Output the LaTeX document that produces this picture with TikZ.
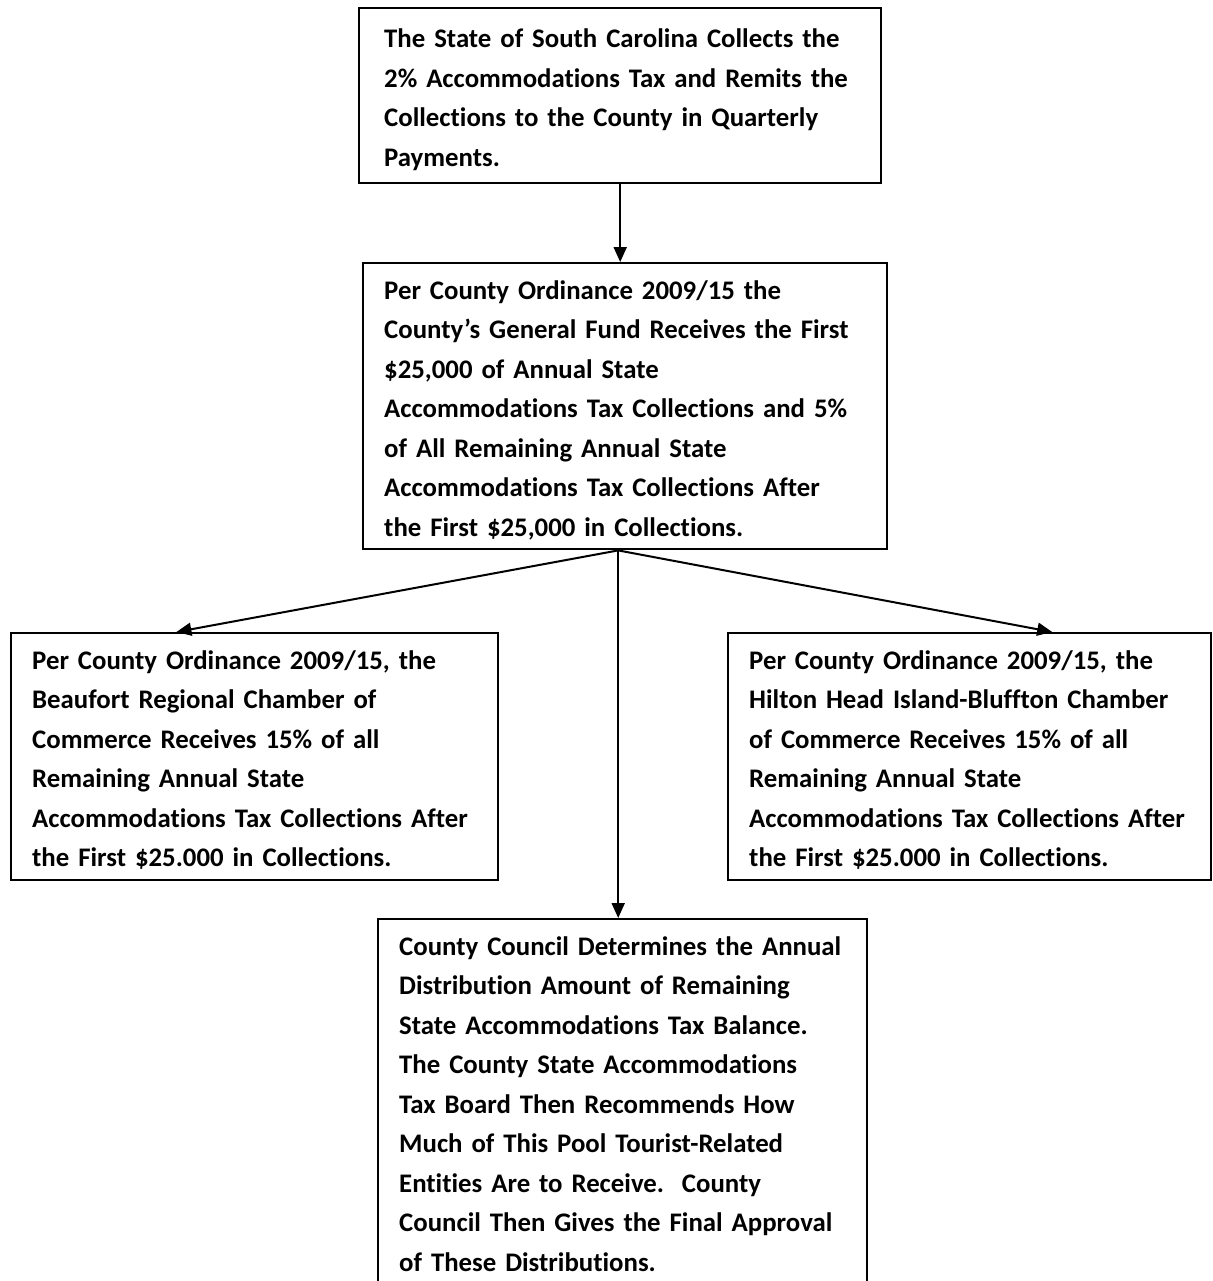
\documentclass[tikz,border=0pt]{standalone}
\usepackage{fontspec}
\setmainfont{Carlito}[Ligatures=NoCommon]
\usepackage{tikz}
\usetikzlibrary{arrows.meta,calc}

\begin{document}
\begin{tikzpicture}[x=0.5pt, y=-0.5pt,
  box/.style={draw, line width=1.2pt, anchor=north west, align=left,
              inner xsep=10.5pt, inner ysep=4pt,
              font=\bfseries\fontsize{13.4}{19.75}\selectfont,
              execute at begin node={\rule{0pt}{14pt}},
              execute at end node={\rule[-2.5pt]{0pt}{2.5pt}}},
  arr/.style={-{Triangle[length=7.5pt, width=6.5pt]}, line width=1pt}]
\path[use as bounding box, clip] (0,0) rectangle (1212,1281);
\node[box, text width=236pt, inner xsep=12.5pt, minimum height=87.5pt] (state)
  at (358,7)
  {The State of South Carolina Collects the\\
   2\% Accommodations Tax and Remits the\\
   Collections to the County in Quarterly\\
   Payments.};
\node[box, text width=241pt] (fund) at (362,262)
  {Per County Ordinance 2009/15 the\\
   County's General Fund Receives the First\\
   \$25,000 of Annual State\\
   Accommodations Tax Collections and 5\%\\
   of All Remaining Annual State\\
   Accommodations Tax Collections After\\
   the First \$25,000 in Collections.};
\node[box, text width=222.5pt] (bcc) at (10,632)
  {Per County Ordinance 2009/15, the\\
   Beaufort Regional Chamber of\\
   Commerce Receives 15\% of all\\
   Remaining Annual State\\
   Accommodations Tax Collections After\\
   the First \$25.000 in Collections.};
\node[box, text width=220.5pt] (hhi) at (727,632)
  {Per County Ordinance 2009/15, the\\
   Hilton Head Island-Bluffton Chamber\\
   of Commerce Receives 15\% of all\\
   Remaining Annual State\\
   Accommodations Tax Collections After\\
   the First \$25.000 in Collections.};
\node[box, text width=223.5pt,
      execute at end node={\rule[-14pt]{0pt}{14pt}}] (council) at (377,918)
  {County Council Determines the Annual\\
   Distribution Amount of Remaining\\
   State Accommodations Tax Balance.\\
   The County State Accommodations\\
   Tax Board Then Recommends How\\
   Much of This Pool Tourist-Related\\
   Entities Are to Receive.\ \ County\\
   Council Then Gives the Final Approval\\
   of These Distributions.};
% connectors
\coordinate (split) at ([xshift=-3.5pt]fund.south);
\draw[arr] (state.south) -- (state.south |- fund.north);
\draw[arr] (split) -- ($(bcc.north west)!0.34!(bcc.north east)$);
\draw[arr] (split) -- ($(hhi.north west)!0.67!(hhi.north east)$);
\draw[arr] (split) -- (split |- council.north);
\end{tikzpicture}
\end{document}
